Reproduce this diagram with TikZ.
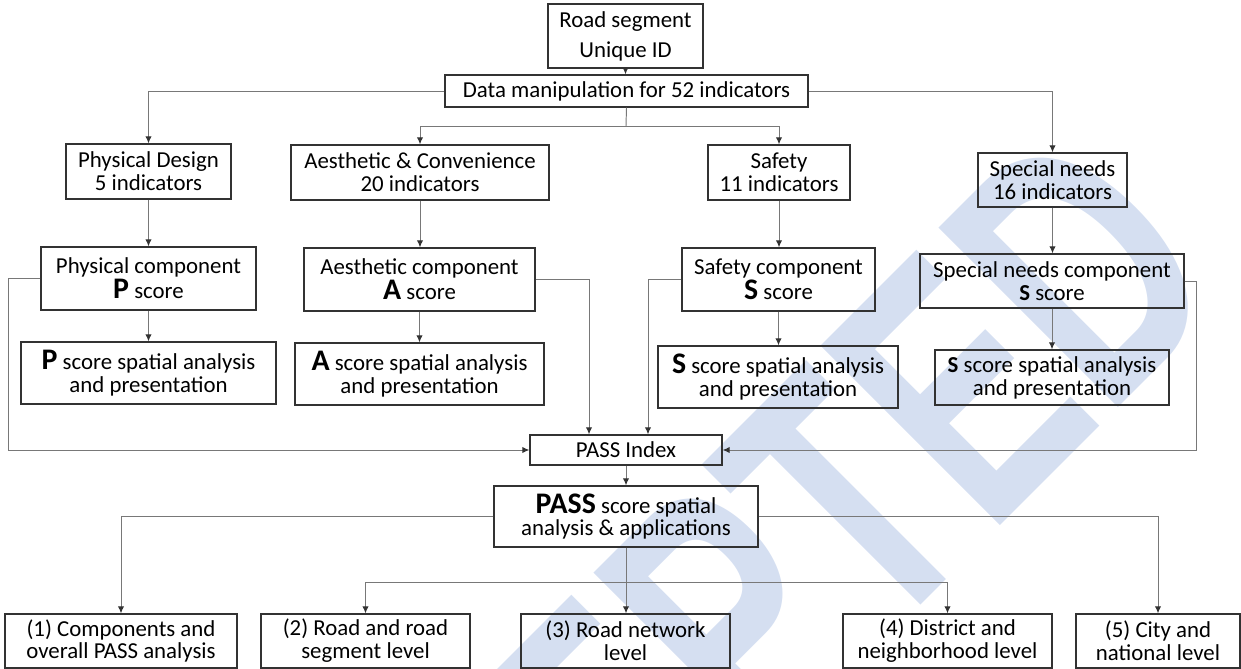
\documentclass[tikz,border=0pt]{standalone}
\usepackage{fontspec}
\setmainfont{Carlito}
\newfontfamily\wmfam{Liberation Sans}
\usepackage{tikz}
\usetikzlibrary{arrows.meta}

\definecolor{boxgray}{RGB}{50,50,50}
\definecolor{linegray}{RGB}{120,120,120}
\definecolor{wmblue}{RGB}{213,223,241}
\newcommand{\bltr}[1]{{\fontsize{17}{17}\selectfont\bfseries #1}}

\tikzset{
  box/.style={draw=boxgray, line width=0.8pt, align=center, inner sep=0pt,
    font=\fontsize{13}{13}\selectfont},
  link/.style={draw=linegray, line width=0.55pt},
}

\begin{document}
\begin{tikzpicture}[x=0.02cm, y=-0.02cm, >={Latex[length=4pt,width=3.6pt,color=boxgray]}]
	\useasboundingbox (0,0) rectangle (1241,669);
	\clip (0,0) rectangle (1241,669);

	% Watermark
	\node[rotate=45, anchor=base east, text=wmblue, font=\wmfam\bfseries\fontsize{210}{210}\selectfont, inner sep=0pt]
		(wm) at (1235,291) {\scalebox{0.68}[1]{ACCEPTED}};

	% Top of the tree
	\node[box, minimum width=3.1cm, minimum height=1.28cm] (road) at (625.5,36) {Road segment\\[4pt]Unique ID};
	\node[box, minimum width=7.26cm, minimum height=0.64cm] (data) at (626.5,91) {Data manipulation for 52 indicators};

	% Indicator groups
	\node[box, minimum width=3.3cm, minimum height=1.1cm] (phys) at (148.5,171.5) {Physical Design\\5 indicators};
	\node[box, minimum width=5.16cm, minimum height=1.1cm] (aest) at (420,172.5) {Aesthetic \& Convenience\\20 indicators};
	\node[box, minimum width=2.84cm, minimum height=1.1cm] (safe) at (779,172.5) {Safety\\11 indicators};
	\node[box, minimum width=2.98cm, minimum height=1.08cm] (spec) at (1052.5,180) {Special needs\\16 indicators};

	% Components
	\node[box, minimum width=4.3cm, minimum height=1.26cm] (physc) at (148.5,278.5) {Physical component\\\bltr{P} score};
	\node[box, minimum width=4.62cm, minimum height=1.26cm] (aestc) at (419.5,279.5) {Aesthetic component\\\bltr{A} score};
	\node[box, minimum width=3.86cm, minimum height=1.26cm] (safec) at (778.5,279.5) {Safety component\\\bltr{S} score};
	\node[box, minimum width=5.28cm, minimum height=1.08cm] (specc) at (1052,281) {Special needs component\\\textbf{S} score};

	% Spatial analysis of each score
	\node[box, minimum width=5.1cm, minimum height=1.24cm] (physs) at (148.5,373) {\bltr{P} score spatial analysis\\and presentation};
	\node[box, minimum width=4.98cm, minimum height=1.24cm] (aests) at (419.5,374) {\bltr{A} score spatial analysis\\and presentation};
	\node[box, minimum width=4.8cm, minimum height=1.24cm] (safes) at (778,377) {\bltr{S} score spatial analysis\\and presentation};
	\node[box, minimum width=4.68cm, minimum height=1.1cm] (specs) at (1052,377.5) {\textbf{S} score spatial analysis\\and presentation};

	% Index and applications
	\node[box, minimum width=3.84cm, minimum height=0.6cm] (index) at (626,450) {PASS Index};
	\node[box, minimum width=5.28cm, minimum height=1.22cm] (pass) at (626,516.5) {\bltr{PASS} score spatial\\analysis \& applications};

	\node[box, minimum width=4.64cm, minimum height=1.08cm] (lv1) at (121,641) {(1) Components and\\overall PASS analysis};
	\node[box, minimum width=4.18cm, minimum height=1.08cm] (lv2) at (365.5,641) {(2) Road and road\\segment level};
	\node[box, minimum width=4.18cm, minimum height=1.08cm] (lv3) at (625.5,641) {(3) Road network\\level};
	\node[box, minimum width=4.18cm, minimum height=1.08cm] (lv4) at (947.5,641) {(4) District and\\neighborhood level};
	\node[box, minimum width=3.28cm, minimum height=1.08cm] (lv5) at (1158,641) {(5) City and\\national level};

	% Bus points
	\coordinate (bus1) at (626,126);
	\coordinate (bus2) at (626,582);

	% Connectors from the top
	\draw[link,->] (road.south) -- (road.south |- data.north);
	\draw[link,->] (data.west) -| (phys.north);
	\draw[link,->] (data.east) -| (spec.north);
	\draw[link] (data.south) -- (bus1);
	\draw[link,->] (bus1) -| (aest.north);
	\draw[link,->] (bus1) -| (safe.north);

	% Down each column
	\draw[link,->] (phys.south) -- (phys.south |- physc.north);
	\draw[link,->] (aest.south) -- (aest.south |- aestc.north);
	\draw[link,->] (safe.south) -- (safe.south |- safec.north);
	\draw[link,->] (spec.south) -- (spec.south |- specc.north);
	\draw[link,->] (physc.south) -- (physc.south |- physs.north);
	\draw[link,->] (aestc.south) -- (aestc.south |- aests.north);
	\draw[link,->] (safec.south) -- (safec.south |- safes.north);
	\draw[link,->] (specc.south) -- (specc.south |- specs.north);

	% Components into the index
	\draw[link,->] (physc.west) -- ++(-32,0) |- (index.west);
	\draw[link,->] (aestc.east) -| ([xshift=-0.74cm]index.north);
	\draw[link,->] (safec.west) -| ([xshift=0.44cm]index.north);
	\draw[link,->] (specc.east) -- ++(12,0) |- (index.east);
	\draw[link,->] (index.south) -- (index.south |- pass.north);

	% Applications
	\draw[link,->] (pass.west) -| (lv1.north);
	\draw[link,->] (pass.east) -| (lv5.north);
	\draw[link,->] (pass.south) -- (pass.south |- lv3.north);
	\draw[link,->] (bus2) -| (lv2.north);
	\draw[link,->] (bus2) -| (lv4.north);
\end{tikzpicture}
\end{document}
